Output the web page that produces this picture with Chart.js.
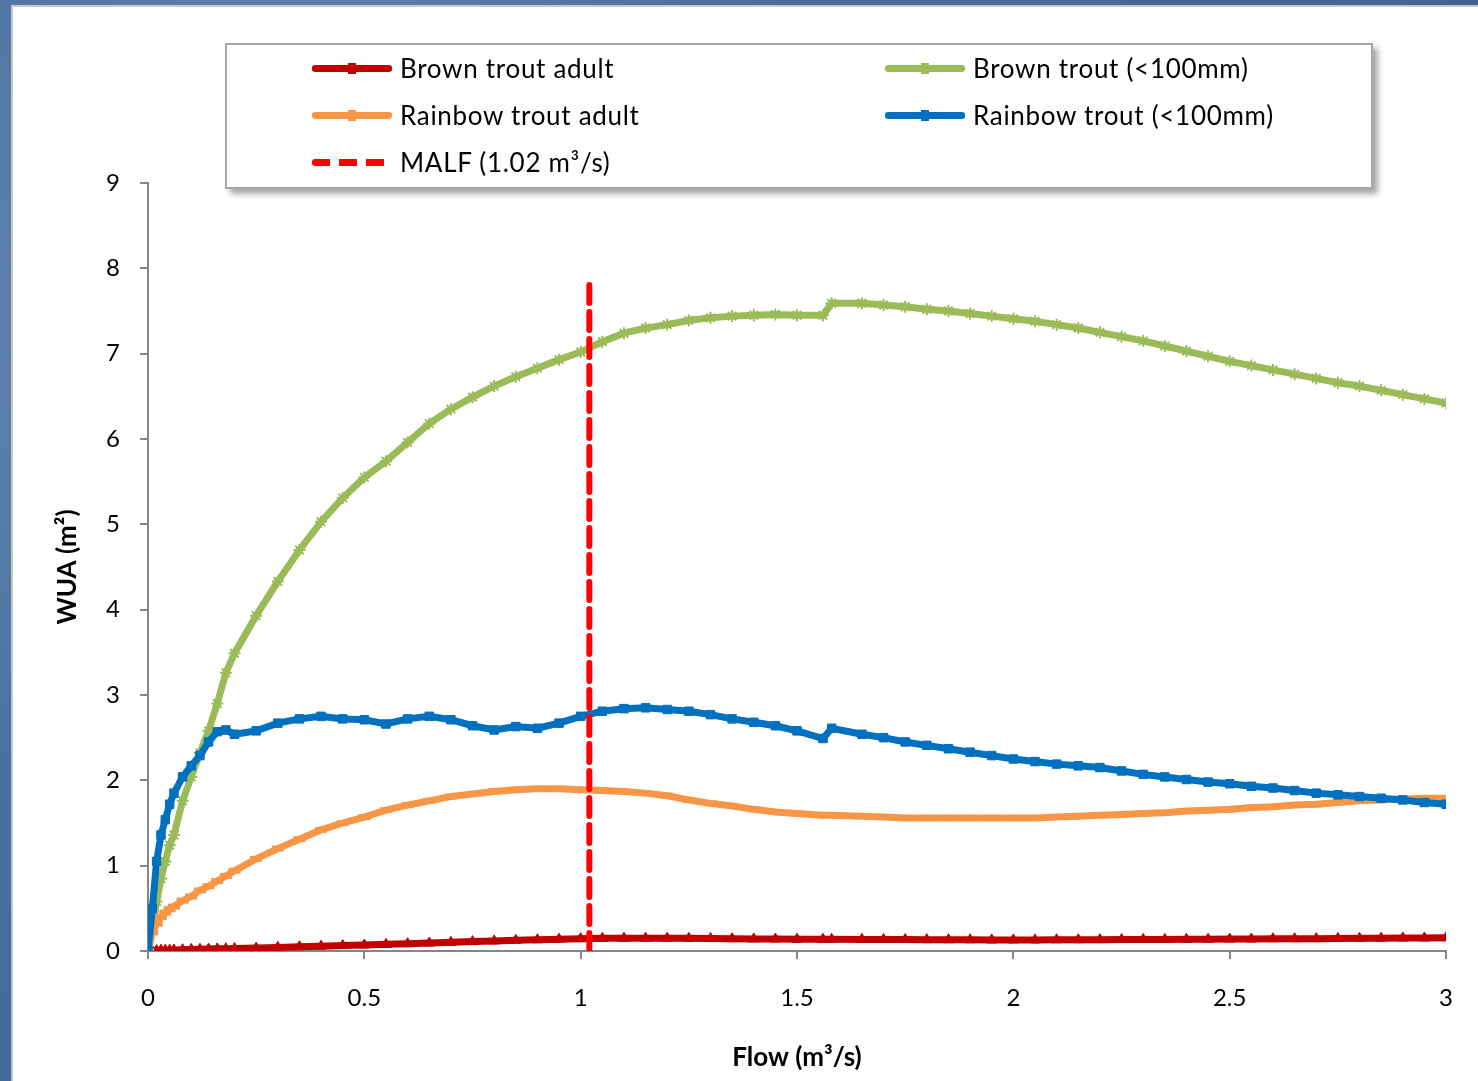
<!DOCTYPE html>
<html>
<head>
<meta charset="utf-8">
<script src="https://cdn.jsdelivr.net/npm/chart.js"></script>
<style>
  html, body { margin: 0; padding: 0; }
  body {
    width: 1478px; height: 1081px; overflow: hidden; position: relative;
    background: #4f74a3;
    background-image: radial-gradient(circle at 20% 30%, #6d8fba 0, #4a6e9c 40%, #3f6190 100%);
    font-family: Lato, "Open Sans", sans-serif;
  }
  #panel {
    position: absolute; left: 11px; top: 5px; width: 1467px; height: 1076px;
    background: #fff; border-left: 2px solid #c8c8c8; border-top: 2px solid #c8c8c8;
    box-sizing: border-box;
  }
  #chart { position: absolute; left: 0; top: 0; }
  #legend {
    position: absolute; left: 212px; top: 36px; width: 1148px; height: 146px;
    border: 2px solid #a6a6a6; background: #fff; box-sizing: border-box;
    box-shadow: 5px 5px 6px rgba(0,0,0,0.35);
  }
  .item { position: absolute; height: 30px; display: flex; align-items: center;
    font-size: 26px; color: #000; white-space: nowrap; letter-spacing: 0.7px; }
  .sample { position: relative; width: 80px; height: 7px; border-radius: 3px; margin-right: 8px; }
  .mark { position: absolute; left: 36px; top: -2px; width: 8px; height: 11px; }
</style>
</head>
<body>
<div id="panel">
  <canvas id="chart" width="1465" height="1074"></canvas>
  <div id="legend"></div>
</div>
<script>
// Flow (m3/s) sample points
const flow = [0, 0.01, 0.02, 0.03, 0.04, 0.05, 0.06, 0.08, 0.1, 0.12, 0.14, 0.16, 0.18, 0.2,
  0.25, 0.3, 0.35, 0.4, 0.45, 0.5, 0.55, 0.6, 0.65, 0.7, 0.75, 0.8, 0.85, 0.9, 0.95, 1.0,
  1.05, 1.1, 1.15, 1.2, 1.25, 1.3, 1.35, 1.4, 1.45, 1.5, 1.56, 1.58,
  1.65, 1.7, 1.75, 1.8, 1.85, 1.9, 1.95, 2.0, 2.05, 2.1, 2.15, 2.2, 2.25, 2.3, 2.35, 2.4,
  2.45, 2.5, 2.55, 2.6, 2.65, 2.7, 2.75, 2.8, 2.85, 2.9, 2.95, 3.0];

// WUA (m2) per series
const brownAdult = [0, 0, 0.005, 0.01, 0.01, 0.01, 0.012, 0.015, 0.018, 0.02, 0.022, 0.025, 0.027, 0.03,
  0.035, 0.042, 0.05, 0.057, 0.064, 0.07, 0.078, 0.086, 0.094, 0.102, 0.11, 0.118, 0.125, 0.132, 0.138, 0.145,
  0.148, 0.15, 0.15, 0.15, 0.148, 0.146, 0.144, 0.142, 0.14, 0.138, 0.137, 0.137,
  0.136, 0.135, 0.134, 0.133, 0.132, 0.131, 0.13, 0.13, 0.13, 0.131, 0.132, 0.133, 0.134, 0.135, 0.136, 0.137,
  0.138, 0.14, 0.141, 0.143, 0.144, 0.145, 0.147, 0.148, 0.15, 0.152, 0.153, 0.155];

const brownJuv = [0, 0.28, 0.58, 0.85, 1.05, 1.24, 1.36, 1.76, 2.04, 2.32, 2.58, 2.9, 3.26, 3.49,
  3.93, 4.33, 4.7, 5.03, 5.31, 5.55, 5.74, 5.96, 6.18, 6.35, 6.49, 6.62, 6.73, 6.83, 6.93, 7.02,
  7.14, 7.24, 7.3, 7.34, 7.39, 7.42, 7.44, 7.45, 7.46, 7.45, 7.45, 7.59,
  7.59, 7.57, 7.55, 7.52, 7.5, 7.47, 7.44, 7.41, 7.38, 7.34, 7.3, 7.25, 7.2, 7.15, 7.09, 7.03,
  6.97, 6.91, 6.86, 6.81, 6.76, 6.71, 6.66, 6.62, 6.57, 6.52, 6.47, 6.42];

const rainbowAdult = [0, 0.22, 0.32, 0.4, 0.45, 0.49, 0.52, 0.59, 0.64, 0.71, 0.76, 0.82, 0.88, 0.94,
  1.08, 1.2, 1.31, 1.42, 1.5, 1.57, 1.65, 1.71, 1.76, 1.81, 1.84, 1.87, 1.89, 1.9, 1.9, 1.89,
  1.88, 1.87, 1.85, 1.82, 1.77, 1.73, 1.7, 1.66, 1.63, 1.61, 1.59, 1.59,
  1.58, 1.57, 1.56, 1.56, 1.56, 1.56, 1.56, 1.56, 1.56, 1.57, 1.58, 1.59, 1.6, 1.61, 1.62, 1.64,
  1.65, 1.66, 1.68, 1.69, 1.71, 1.72, 1.74, 1.76, 1.77, 1.78, 1.79, 1.79];

const rainbowJuv = [0, 0.5, 1.05, 1.36, 1.54, 1.72, 1.85, 2.04, 2.17, 2.29, 2.45, 2.57, 2.59, 2.54,
  2.58, 2.67, 2.72, 2.75, 2.72, 2.71, 2.66, 2.72, 2.75, 2.71, 2.64, 2.59, 2.63, 2.61, 2.67, 2.75,
  2.81, 2.84, 2.85, 2.83, 2.81, 2.77, 2.72, 2.68, 2.64, 2.58, 2.49, 2.61,
  2.54, 2.5, 2.45, 2.41, 2.37, 2.33, 2.29, 2.25, 2.22, 2.19, 2.17, 2.15, 2.11, 2.07, 2.04, 2.01,
  1.98, 1.96, 1.93, 1.91, 1.88, 1.85, 1.83, 1.81, 1.79, 1.77, 1.74, 1.72];

// MALF marker line
const malfFlow = [1.02, 1.02];
const malfWua = [0, 7.88];

const seriesLabels = ['Brown trout adult', 'Brown trout (<100mm)', 'Rainbow trout adult',
  'Rainbow trout (<100mm)', 'MALF (1.02 m\u00b3/s)'];

function pts(xs, ys) {
  return xs.map((x, i) => ({ x: x, y: ys[i] }));
}

const datasets = [
  { label: seriesLabels[0], data: pts(flow, brownAdult), borderColor: '#C00000', backgroundColor: '#C00000',
    borderWidth: 7, pointStyle: 'triangle', pointRadius: 6, pointBorderWidth: 1, order: 4 },
  { label: seriesLabels[1], data: pts(flow, brownJuv), borderColor: '#9BBB59', backgroundColor: '#9BBB59',
    borderWidth: 7, pointStyle: 'star', pointRadius: 6, pointBorderWidth: 2, order: 3 },
  { label: seriesLabels[2], data: pts(flow, rainbowAdult), borderColor: '#F79646', backgroundColor: '#F79646',
    borderWidth: 7, pointStyle: 'line', pointRadius: 6, pointBorderWidth: 6, order: 2 },
  { label: seriesLabels[3], data: pts(flow, rainbowJuv), borderColor: '#0070C0', backgroundColor: '#0070C0',
    borderWidth: 7, pointStyle: 'rect', pointRadius: 6, pointBorderWidth: 1, order: 1 },
  { label: seriesLabels[4], data: pts(malfFlow, malfWua), borderColor: '#FF0000', backgroundColor: '#FF0000',
    borderWidth: 6, borderDash: [18, 9], borderCapStyle: 'round', pointRadius: 0, order: 0 }
];

const axisGray = '#868686';
const tickFont = { family: 'Lato, "Open Sans", sans-serif', size: 24 };
const titleFont = { family: 'Lato, "Open Sans", sans-serif', size: 26, weight: 'bold' };

const chart = new Chart(document.getElementById('chart'), {
  type: 'line',
  data: { datasets: datasets },
  options: {
    responsive: false,
    animation: false,
    layout: { padding: { left: 0, right: 29, top: 176, bottom: 0 } },
    plugins: { legend: { display: false }, tooltip: { enabled: false } },
    elements: { line: { tension: 0 } },
    scales: {
      x: {
        type: 'linear', min: 0, max: 3,
        ticks: { stepSize: 0.5, color: '#000', font: tickFont, padding: 25, maxRotation: 0,
          callback: v => String(Number(v)) },
        grid: { drawOnChartArea: false, tickLength: 8, color: axisGray, lineWidth: 2 },
        border: { color: axisGray, width: 2 },
        title: { display: true, text: 'Flow (m\u00b3/s)', color: '#000', font: titleFont, padding: { bottom: 8 } },
        afterFit: s => { s.height = 130; }
      },
      y: {
        min: 0, max: 9,
        ticks: { stepSize: 1, color: '#000', font: tickFont, padding: 20 },
        grid: { drawOnChartArea: false, tickLength: 8, color: axisGray, lineWidth: 2 },
        border: { color: axisGray, width: 2 },
        title: { display: true, text: 'WUA (m\u00b2)', color: '#000', font: titleFont, padding: { top: 39 } },
        afterFit: s => { s.width = 135; }
      }
    }
  }
});

// Legend built from the datasets, Excel-style 2-column grid
const legend = document.getElementById('legend');
const colX = [85, 658];
const rowY = [8, 55, 102];
chart.data.datasets.forEach((ds, i) => {
  const item = document.createElement('div');
  item.className = 'item';
  item.style.left = colX[i % 2] + 'px';
  item.style.top = rowY[Math.floor(i / 2)] + 'px';
  const sample = document.createElement('span');
  sample.className = 'sample';
  if (ds.borderDash) {
    sample.style.background = 'repeating-linear-gradient(90deg,' + ds.borderColor + ' 0 18px, transparent 18px 27px)';
  } else {
    sample.style.background = ds.borderColor;
    const m = document.createElement('span');
    m.className = 'mark';
    m.style.background = ds.borderColor;
    sample.appendChild(m);
  }
  item.appendChild(sample);
  item.appendChild(document.createTextNode(ds.label));
  legend.appendChild(item);
});
</script>
</body>
</html>
